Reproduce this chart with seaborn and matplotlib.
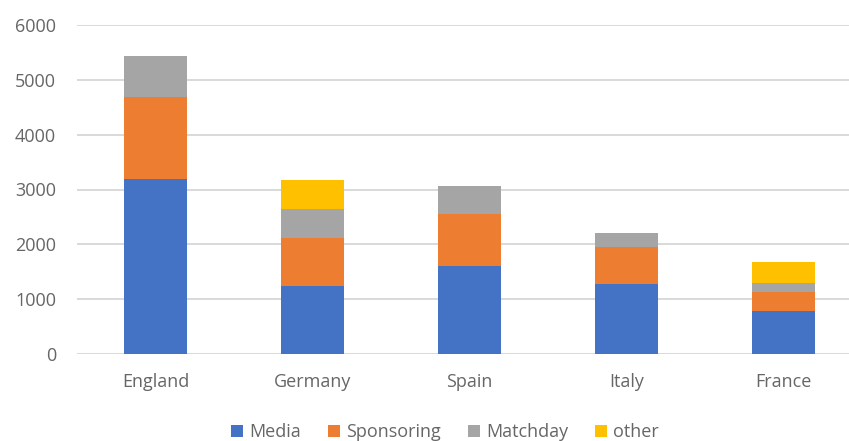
import matplotlib
matplotlib.use("Agg")
import matplotlib.pyplot as plt
from matplotlib.patches import Patch
import numpy as np
import pandas as pd
import seaborn as sns

countries = ["England", "Germany", "Spain", "Italy", "France"]
media = [3200, 1240, 1600, 1280, 785]
sponsoring = [1480, 880, 950, 670, 340]
matchday = [760, 525, 515, 255, 175]
other = [0, 525, 0, 0, 385]

series_names = ["Media", "Sponsoring", "Matchday", "other"]
series_colors = ["#4472C4", "#ED7D31", "#A5A5A5", "#FFC000"]

sns.set_theme(style="white")
plt.rcParams["font.family"] = ["Open Sans", "DejaVu Sans"]

text_color = "#666666"
grid_color = "#D9D9D9"

fig = plt.figure(figsize=(8.49, 4.41), dpi=100)
ax = fig.add_axes([77 / 849, 87 / 441, (849 - 77) / 849, (354 - 25) / 441])

values = np.array([media, sponsoring, matchday, other], dtype=float)
cumulative = values.cumsum(axis=0)

# Stack by layering cumulative totals, tallest layer drawn first
for i in range(len(series_names) - 1, -1, -1):
    df = pd.DataFrame({"country": countries, "total": cumulative[i]})
    sns.barplot(data=df, x="country", y="total", color=series_colors[i],
                width=0.4, saturation=1, ax=ax, zorder=3, linewidth=0)

ax.set_ylim(0, 6000)
ax.set_xlim(-0.5, 4.417)
ax.set_yticks(range(0, 6001, 1000))
ax.yaxis.grid(True, color=grid_color, linewidth=1.4, zorder=0)
ax.set_axisbelow(True)
for s in ax.spines.values():
    s.set_visible(False)
ax.set_xlabel("")
ax.set_ylabel("")
ax.tick_params(axis="both", length=0, colors=text_color, labelsize=13)
ax.tick_params(axis="y", pad=15)
ax.tick_params(axis="x", pad=14)

handles = [Patch(facecolor=c, edgecolor="none", label=n)
           for n, c in zip(series_names, series_colors)]
leg = fig.legend(handles=handles, loc="center", bbox_to_anchor=(445 / 849, 9 / 441),
                 ncol=4, frameon=False, fontsize=13, handlelength=0.65,
                 handleheight=0.65, handletextpad=0.35, columnspacing=1.5)
for t in leg.get_texts():
    t.set_color(text_color)

fig.savefig("out.png", dpi=100)
